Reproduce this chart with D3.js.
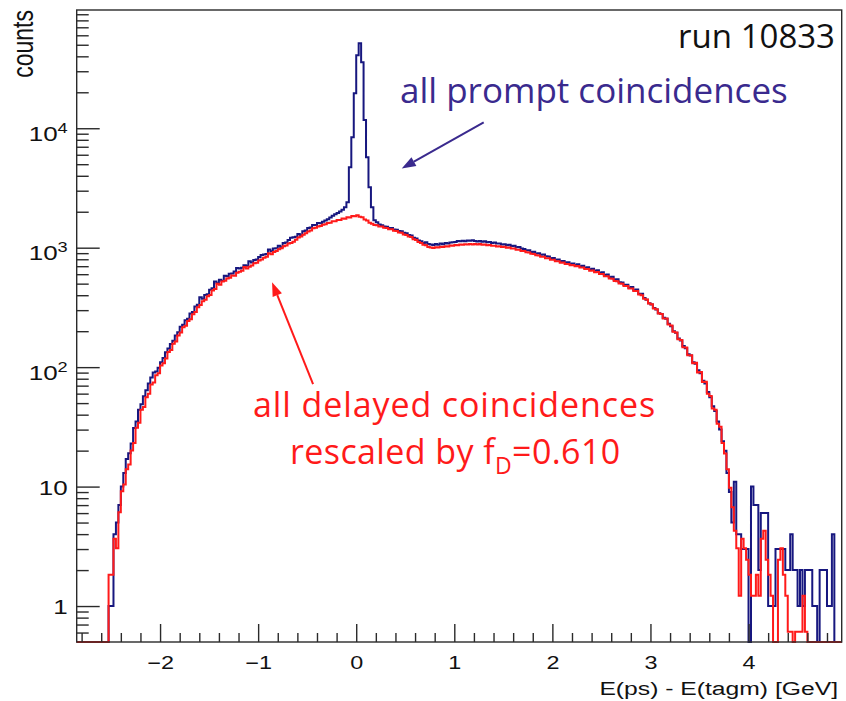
<!DOCTYPE html>
<html lang="en">
<head>
<meta charset="UTF-8">
<title>E(ps) - E(tagm), run 10833</title>
<script src="https://d3js.org/d3.v7.min.js"></script>
<style>
  body { margin: 0; background: #fff; }
  svg { display: block; }
</style>
</head>
<body>
<svg id="chart" width="846" height="701"></svg>
<script>
const width = 846, height = 701;
const frame = { left: 76.7, right: 841.7, top: 10, bottom: 642 };

// binning of both histograms, GeV
const binStart = -2.55;
const binWidth = 0.025;
const xRange = [-2.85, 4.95];
const yRange = [0.5, 97700];

// all prompt coincidences (counts per bin)
const prompt = [
  0, 1, 1, 4, 5, 7, 10, 13, 17, 19,
  23, 31, 35, 44, 49, 57, 64, 73, 82, 90,
  92, 99, 110, 119, 133, 143, 156, 166, 184, 196,
  218, 226, 247, 254, 281, 290, 322, 333, 385, 374,
  402, 408, 445, 458, 520, 503, 538, 525, 581, 577,
  606, 607, 633, 675, 671, 680, 712, 707, 770, 750,
  790, 795, 834, 870, 878, 884, 965, 935, 984, 990,
  1040, 1010, 1097, 1104, 1161, 1210, 1224, 1233, 1300, 1270,
  1375, 1392, 1461, 1474, 1552, 1548, 1610, 1605, 1650, 1690,
  1730, 1790, 1850, 1905, 1950, 2010, 2080, 2180, 2400, 4720,
  8410, 19600, 40800, 51400, 35600, 11700, 5720, 3200, 2180, 1700,
  1630, 1565, 1540, 1502, 1498, 1462, 1460, 1420, 1414, 1380,
  1372, 1332, 1318, 1276, 1262, 1214, 1196, 1148, 1132, 1093,
  1112, 1074, 1066, 1052, 1073, 1060, 1082, 1071, 1096, 1084,
  1105, 1112, 1118, 1135, 1130, 1145, 1132, 1150, 1141, 1155,
  1140, 1126, 1138, 1122, 1130, 1110, 1118, 1097, 1105, 1085,
  1082, 1064, 1070, 1050, 1058, 1031, 1037, 1010, 1015, 985,
  976, 950, 950, 922, 925, 896, 900, 871, 875, 848,
  842, 816, 820, 792, 796, 770, 775, 752, 754, 734,
  739, 718, 726, 700, 705, 680, 686, 660, 665, 642,
  647, 618, 622, 592, 596, 566, 570, 540, 544, 514,
  512, 486, 490, 462, 468, 440, 446, 412, 412, 380,
  366, 343, 335, 312, 304, 283, 279, 259, 254, 231,
  220, 200, 194, 174, 167, 150, 144, 128, 125, 110,
  107, 94, 89, 77, 73, 62, 56, 47, 43, 35,
  30, 24, 20, 13, 9, 5, 11, 4, 4, 3,
  3, 3, 0, 10, 7, 7, 2, 6, 6, 6,
  1, 1, 1, 3, 3, 3, 3, 2, 2, 4,
  2, 2, 1, 2, 1, 2, 2, 2, 1, 1,
  0, 2, 2, 2, 1, 1, 4, 0, 0
];

// all delayed coincidences, rescaled by f_D = 0.610
const delayed = [
  0, 1.83, 1.83, 3.66, 3.05, 6.1, 9.15, 10.4, 14.0, 15.3,
  20.1, 23.2, 31.1, 34.2, 43.9, 46.4, 56.1, 59.8, 71.4, 74.4,
  85.4, 89.1, 103, 108, 118, 134, 139, 157, 164, 184,
  195, 216, 222, 243, 252, 277, 290, 318, 331, 356,
  366, 392, 402, 438, 451, 500, 490, 521, 529, 551,
  560, 584, 583, 618, 630, 641, 690, 669, 694, 708,
  742, 748, 781, 795, 822, 838, 900, 880, 921, 937,
  971, 990, 1026, 1045, 1085, 1097, 1120, 1168, 1215, 1240,
  1286, 1318, 1369, 1396, 1452, 1468, 1505, 1520, 1556, 1571,
  1612, 1618, 1664, 1662, 1708, 1706, 1752, 1750, 1797, 1792,
  1842, 1836, 1872, 1815, 1801, 1724, 1690, 1618, 1585, 1546,
  1541, 1505, 1502, 1466, 1463, 1428, 1425, 1387, 1380, 1341,
  1334, 1292, 1279, 1238, 1226, 1179, 1160, 1115, 1097, 1060,
  1048, 1013, 1004, 995, 1010, 1002, 1017, 1012, 1029, 1025,
  1042, 1037, 1054, 1049, 1066, 1058, 1070, 1062, 1075, 1064,
  1074, 1066, 1072, 1060, 1063, 1047, 1052, 1036, 1040, 1025,
  1029, 1012, 1017, 1000, 1005, 983, 984, 962, 963, 939,
  937, 914, 912, 888, 887, 863, 862, 839, 840, 816,
  816, 793, 793, 770, 770, 749, 750, 730, 731, 713,
  716, 698, 702, 681, 682, 662, 663, 642, 644, 624,
  626, 602, 601, 577, 576, 552, 550, 526, 524, 501,
  500, 478, 477, 455, 455, 433, 434, 406, 400, 374,
  369, 341, 336, 309, 305, 281, 279, 256, 256, 228,
  223, 198, 195, 171, 169, 147, 146, 126, 126, 108,
  109, 90.3, 90.9, 75.0, 75.6, 59.8, 57.3, 45.1, 43.9, 33.6,
  31.7, 23.2, 18.9, 14.0, 9.76, 6.71, 4.27, 3.05, 1.22, 3.66,
  3.05, 2.44, 1.83, 1.22, 1.22, 1.83, 1.22, 3.66, 4.27, 2.44,
  1.83, 1.22, 0, 0, 2.44, 3.05, 1.83, 1.22, 0.61, 0.61,
  0, 0.61, 0.61, 0.61, 1.22, 0.61, 0, 0, 0, 0,
  0, 0, 0, 0, 0, 0, 0, 0, 0
];

const xTickLabels = [-2, -1, 0, 1, 2, 3, 4];
const yTickLabels = [1, 10, 100, 1000, 10000];

const blue = "#17177f";
const red = "#ff1a1a";
const purple = "#3a2a8e";
const rootFont = "'Liberation Sans', Arial, Helvetica, sans-serif";
const stretch = 1.3; // the ROOT canvas is stretched sideways in the picture

const x = d3.scaleLinear().domain(xRange).range([frame.left, frame.right]);
const y = d3.scaleLog().domain(yRange).range([frame.bottom, frame.top]);

const svg = d3.select("#chart");

// ---- histograms ----
function stepPoints(values) {
  const yb = frame.bottom;
  const yv = v => v >= yRange[0] ? y(v) : yb;
  const pts = [[x(xRange[0]), yb], [x(binStart), yb]];
  values.forEach((v, i) => {
    pts.push([x(binStart + i * binWidth), yv(v)]);
    pts.push([x(binStart + (i + 1) * binWidth), yv(v)]);
  });
  pts.push([x(binStart + values.length * binWidth), yb]);
  pts.push([x(xRange[1]), yb]);
  return pts;
}

const line = d3.line();
svg.append("path")
    .attr("d", line(stepPoints(prompt)))
    .attr("fill", "none")
    .attr("stroke", blue)
    .attr("stroke-width", 2);
svg.append("path")
    .attr("d", line(stepPoints(delayed)))
    .attr("fill", "none")
    .attr("stroke", red)
    .attr("stroke-width", 2);

// ---- frame ----
svg.append("rect")
    .attr("x", frame.left).attr("y", frame.top)
    .attr("width", frame.right - frame.left)
    .attr("height", frame.bottom - frame.top)
    .attr("fill", "none")
    .attr("stroke", "#2a2a2a")
    .attr("stroke-width", 1.4);

// ---- x axis ----
const xMinor = d3.range(-14, 25).map(i => i * 0.2).filter(v => Math.abs(v - Math.round(v)) > 1e-6);
const gxMinor = svg.append("g")
    .attr("transform", `translate(0,${frame.bottom})`)
    .call(d3.axisBottom(x).tickValues(xMinor).tickSize(-9).tickFormat(""));
const gx = svg.append("g")
    .attr("transform", `translate(0,${frame.bottom})`)
    .call(d3.axisBottom(x).tickValues(xTickLabels).tickSize(-18).tickPadding(14)
      .tickFormat(d => d < 0 ? "\u2212" + Math.abs(d) : String(d)));
gx.selectAll("text")
    .attr("font-family", rootFont)
    .attr("font-size", 18)
    .attr("fill", "#111")
    .attr("transform", `scale(${stretch},1)`);

// ---- y axis ----
const yMinor = [];
[0.1, 1, 10, 100, 1000, 10000].forEach(dec => {
  d3.range(2, 10).forEach(m => {
    const v = m * dec;
    if (v > yRange[0] && v < yRange[1]) yMinor.push(v);
  });
});
const gyMinor = svg.append("g")
    .attr("transform", `translate(${frame.left},0)`)
    .call(d3.axisLeft(y).tickValues(yMinor).tickSize(-12).tickFormat(""));
const gy = svg.append("g")
    .attr("transform", `translate(${frame.left},0)`)
    .call(d3.axisLeft(y).tickValues(yTickLabels).tickSize(-23).tickFormat(""));

gy.selectAll(".tick").each(function(d) {
  const exp = Math.round(Math.log10(d));
  const t = d3.select(this).append("text")
      .attr("font-family", rootFont)
      .attr("font-size", 20)
      .attr("fill", "#111")
      .attr("text-anchor", "end")
      .attr("transform", `scale(${stretch},1)`)
      .attr("x", -9 / stretch);
  if (exp < 2) {
    t.attr("y", 7.5).text(String(d));
  } else {
    t.attr("y", 12);
    t.append("tspan").text("10");
    t.append("tspan").attr("font-size", 14).attr("dy", -8).text(String(exp));
  }
});

[gxMinor, gx, gyMinor, gy].forEach(g => {
  g.select(".domain").remove();
  g.selectAll(".tick line").attr("stroke", "#2a2a2a").attr("stroke-width", 1.4);
});

// ---- axis titles ----
svg.append("text")
    .attr("transform", `translate(838,695) scale(${stretch},1)`)
    .attr("text-anchor", "end")
    .attr("font-family", rootFont)
    .attr("font-size", 19)
    .attr("fill", "#111")
    .text("E(ps) - E(tagm) [GeV]");

svg.append("text")
    .attr("transform", `translate(33,10) scale(${stretch},1) rotate(-90)`)
    .attr("text-anchor", "end")
    .attr("font-family", rootFont)
    .attr("font-size", 23)
    .attr("fill", "#111")
    .text("counts");

// ---- annotations ----
function arrow(x1, y1, x2, y2, color) {
  const a = Math.atan2(y2 - y1, x2 - x1);
  const L = 14, W = 5;
  const bx = x2 - L * Math.cos(a), by = y2 - L * Math.sin(a);
  svg.append("line")
      .attr("x1", x1).attr("y1", y1).attr("x2", bx).attr("y2", by)
      .attr("stroke", color).attr("stroke-width", 2);
  svg.append("path")
      .attr("d", `M${x2},${y2}L${bx - W * Math.sin(a)},${by + W * Math.cos(a)}L${bx + W * Math.sin(a)},${by - W * Math.cos(a)}Z`)
      .attr("fill", color);
}

// arrows anchored in data coordinates (GeV, counts)
arrow(x(1.30), y(11200), x(0.464), y(4600), purple);
arrow(x(-0.44), y(72), x(-0.858), y(514), red);

const notes = svg.append("g").attr("font-family", "'Open Sans', sans-serif");
notes.append("text")
    .attr("x", 835).attr("y", 48)
    .attr("text-anchor", "end")
    .attr("font-size", 33)
    .attr("fill", "#111")
    .text("run 10833");
notes.append("text")
    .attr("x", 400).attr("y", 103)
    .attr("font-size", 35)
    .attr("fill", purple)
    .text("all prompt coincidences");
notes.append("text")
    .attr("x", 253).attr("y", 417)
    .attr("font-size", 34)
    .attr("letter-spacing", 0.9)
    .attr("fill", red)
    .text("all delayed coincidences");
const sub = notes.append("text")
    .attr("x", 290).attr("y", 464)
    .attr("font-size", 34)
    .attr("letter-spacing", 0.4)
    .attr("fill", red);
sub.append("tspan").text("rescaled by f");
sub.append("tspan").attr("font-size", 23).attr("dy", 10).text("D");
sub.append("tspan").attr("dy", -10).text("=0.610");
</script>
</body>
</html>
